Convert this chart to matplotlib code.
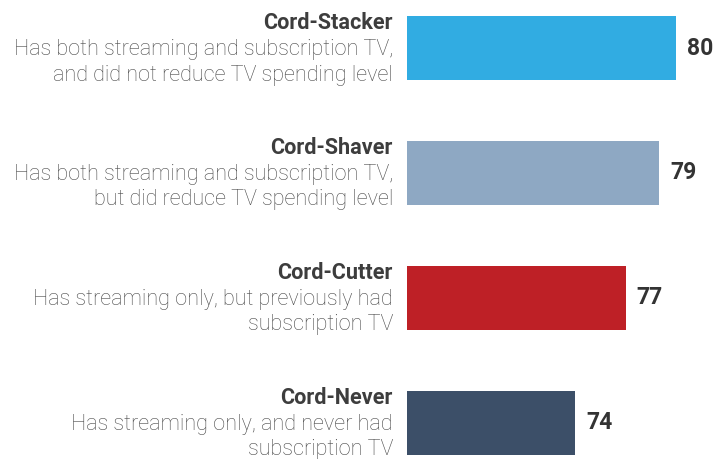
import matplotlib.pyplot as plt

# data
names = ['Cord-Stacker', 'Cord-Shaver', 'Cord-Cutter', 'Cord-Never']
descs = [
    ['Has both streaming and subscription TV,', 'and did not reduce TV spending level'],
    ['Has both streaming and subscription TV,', 'but did reduce TV spending level'],
    ['Has streaming only, but previously had', 'subscription TV'],
    ['Has streaming only, and never had', 'subscription TV'],
]
values = [80, 79, 77, 74]
colors = ['#31ace2', '#8ea8c3', '#be2026', '#3c4f68']

plt.rcParams['font.family'] = ['Roboto', 'DejaVu Sans']

fig = plt.figure(figsize=(7.13, 4.59), dpi=100)
ax = fig.add_axes([407 / 713, 0, 1 - 407 / 713, 1])

pos = list(range(len(values)))
ax.barh(pos, [v - 64 for v in values], left=64, height=0.513, color=colors)
ax.set_xlim(64, 82.18)
ax.set_ylim(3.292, -0.385)
ax.axis('off')

px = 72 / 100  # points per pixel
for i, (name, lines, v) in enumerate(zip(names, descs, values)):
    # etiqueta da esquerda
    ax.annotate(name, xy=(0, i), xycoords=('axes fraction', 'data'),
                xytext=(-14 * px, 19 * px), textcoords='offset points',
                ha='right', va='baseline', fontsize=15.6, fontweight='bold',
                color='#3d3d3d')
    for k, line in enumerate(lines):
        ax.annotate(line, xy=(0, i), xycoords=('axes fraction', 'data'),
                    xytext=(-14 * px, (-7 - 25.5 * k) * px), textcoords='offset points',
                    ha='right', va='baseline', fontsize=15.6, fontweight='light',
                    color='#4a4a4a')
    # valor
    ax.annotate(str(v), xy=(v, i), xytext=(11 * px, 0), textcoords='offset points',
                ha='left', va='center', fontsize=16.5, fontweight='bold', color='#333333')

fig.savefig('out.png', dpi=100)
